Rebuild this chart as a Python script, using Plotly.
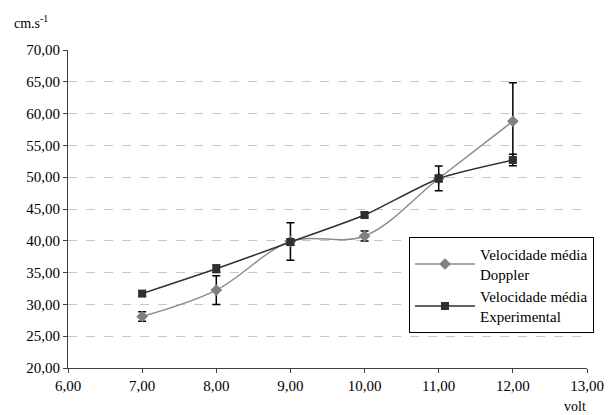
import plotly.graph_objects as go

volts = [7.0, 8.0, 9.0, 10.0, 11.0, 12.0]
doppler = [28.1, 32.25, 39.9, 40.75, 49.8, 58.8]
doppler_err = [0.75, 2.25, 2.95, 0.8, 0.5, 6.05]
experimental = [31.7, 35.6, 39.8, 44.05, 49.8, 52.7]
experimental_err = [0.4, 0.6, 0.5, 0.4, 1.95, 0.9]
y_ticks = [20, 25, 30, 35, 40, 45, 50, 55, 60, 65, 70]
x_ticks = [6, 7, 8, 9, 10, 11, 12, 13]

FONT = "Liberation Serif, Times New Roman, serif"

def fmt(v):
    return f"{v:.2f}".replace(".", ",")

# page body has an 8px margin: figure starts at (8, 8)
OFF = 8
W, H = 615 - OFF, 415 - OFF
L, T, R, B = 68 - OFF, 50 - OFF, 28, 47

fig = go.Figure()
fig.add_trace(go.Scatter(
    x=volts, y=doppler, name="Velocidade média<br>Doppler",
    mode="lines+markers",
    line=dict(color="#8c8c8c", width=1.5, shape="spline", smoothing=1.0),
    marker=dict(symbol="diamond", size=9, color="#808080"),
    error_y=dict(type="data", array=doppler_err, color="#000000", thickness=1.5, width=4),
))
fig.add_trace(go.Scatter(
    x=volts, y=experimental, name="Velocidade média<br>Experimental",
    mode="lines+markers",
    line=dict(color="#303030", width=1.5, shape="spline", smoothing=0.6),
    marker=dict(symbol="square", size=8, color="#303030"),
    error_y=dict(type="data", array=experimental_err, color="#000000", thickness=1.5, width=4),
))

pw, ph = W - L - R, H - T - B

def px(xp):
    return (xp - OFF - L) / pw

def py(yp):
    return (H - B - (yp - OFF)) / ph

fig.update_layout(
    width=W, height=H,
    margin=dict(l=L, r=R, t=T, b=B),
    paper_bgcolor="white", plot_bgcolor="white",
    font=dict(family=FONT, size=15, color="#000000"),
    showlegend=True,
    legend=dict(
        x=px(409), y=py(237), xanchor="left", yanchor="top",
        bordercolor="#000000", borderwidth=1, bgcolor="white",
        font=dict(family=FONT, size=15),
        tracegroupgap=10, itemwidth=60,
    ),
    xaxis=dict(
        range=[6, 13], tickvals=x_ticks, ticktext=[fmt(v) for v in x_ticks],
        showgrid=False, zeroline=False, showline=True, linecolor="#404040", linewidth=1,
        ticks="outside", ticklen=4, tickcolor="#404040",
    ),
    yaxis=dict(
        range=[20, 70], tickvals=y_ticks, ticktext=[fmt(v) for v in y_ticks],
        showgrid=True, gridcolor="#c8c8c8", griddash="dash", gridwidth=1,
        zeroline=False, showline=True, linecolor="#404040", linewidth=1,
        ticks="outside", ticklen=4, tickcolor="#404040",
    ),
    annotations=[
        dict(text="cm.s<sup>-1</sup>", x=px(12), y=py(22), xref="paper", yref="paper",
             showarrow=False, xanchor="left", yanchor="middle", font=dict(size=14)),
        dict(text="volt", x=px(575), y=py(406), xref="paper", yref="paper",
             showarrow=False, xanchor="center", yanchor="middle", font=dict(size=14)),
    ],
)

fig.write_html("out.html")
